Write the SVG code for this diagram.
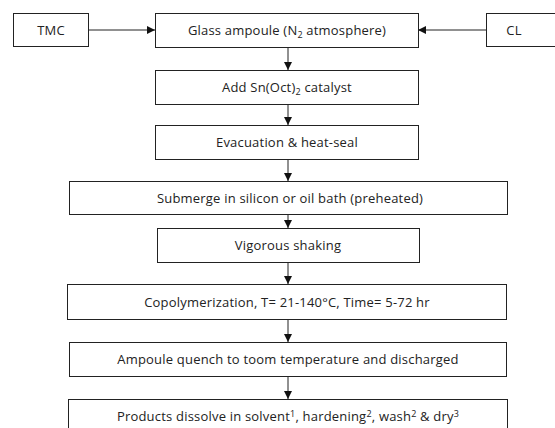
<svg xmlns="http://www.w3.org/2000/svg" width="555" height="428" viewBox="0 0 555 428">
<defs>
<style>
.box{fill:#fff;stroke:#222;stroke-width:1}
.t{font-family:"Open Sans","Liberation Sans",sans-serif;font-size:13px;letter-spacing:0.2px;fill:#222;text-anchor:middle}
.c{stroke:#222;stroke-width:1;fill:none}
</style>
<marker id="ah" viewBox="0 0 10 10" refX="10" refY="5" markerWidth="8" markerHeight="8" markerUnits="userSpaceOnUse" orient="auto">
<path d="M0,0 L10,5 L0,10 z" fill="#111"/>
</marker>
</defs>
<rect width="555" height="428" fill="#fff"/>
<g id="connectors">
<line class="c" x1="88" y1="30" x2="155" y2="30" marker-end="url(#ah)"/>
<line class="c" x1="486" y1="30" x2="418" y2="30" marker-end="url(#ah)"/>
<line class="c" x1="288" y1="47" x2="288" y2="70" marker-end="url(#ah)"/>
<line class="c" x1="288" y1="104" x2="288" y2="125" marker-end="url(#ah)"/>
<line class="c" x1="288" y1="159" x2="288" y2="181" marker-end="url(#ah)"/>
<line class="c" x1="288" y1="214" x2="288" y2="228" marker-end="url(#ah)"/>
<line class="c" x1="288" y1="262" x2="288" y2="284" marker-end="url(#ah)"/>
<line class="c" x1="288" y1="319" x2="288" y2="342" marker-end="url(#ah)"/>
<line class="c" x1="288" y1="376" x2="288" y2="399" marker-end="url(#ah)"/>
</g>
<g id="tmc"><rect class="box" x="13.5" y="13.5" width="75" height="33"/><text class="t" x="51" y="35">TMC</text></g>
<g id="glass"><rect class="box" x="155.5" y="13.5" width="263" height="34"/><text class="t" x="287" y="35">Glass ampoule (N<tspan font-size="9" dy="3">2</tspan><tspan dy="-3"> atmosphere)</tspan></text></g>
<g id="cl"><rect class="box" x="486.5" y="13.5" width="80" height="33"/><text class="t" x="514" y="35">CL</text></g>
<g id="catalyst"><rect class="box" x="155.5" y="70.5" width="263" height="34"/><text class="t" x="287" y="92">Add Sn(Oct)<tspan font-size="9" dy="3">2</tspan><tspan dy="-3"> catalyst</tspan></text></g>
<g id="evac"><rect class="box" x="155.5" y="125.5" width="263" height="34"/><text class="t" x="287" y="147">Evacuation &amp; heat-seal</text></g>
<g id="submerge"><rect class="box" x="69.5" y="181.5" width="438" height="33"/><text class="t" x="290" y="202.5">Submerge in silicon or oil bath (preheated)</text></g>
<g id="shaking"><rect class="box" x="157.5" y="228.5" width="262" height="34"/><text class="t" x="288" y="250">Vigorous shaking</text></g>
<g id="copoly"><rect class="box" x="67.5" y="284.5" width="439" height="35"/><text class="t" x="287" y="306.5">Copolymerization, T= 21-140°C, Time= 5-72 hr</text></g>
<g id="quench"><rect class="box" x="69.5" y="342.5" width="437" height="34"/><text class="t" x="288" y="364">Ampoule quench to toom temperature and discharged</text></g>
<g id="products"><rect class="box" x="68.5" y="399.5" width="439" height="40"/><text class="t" x="288" y="421">Products dissolve in solvent<tspan font-size="9" dy="-4">1</tspan><tspan dy="4">, hardening</tspan><tspan font-size="9" dy="-4">2</tspan><tspan dy="4">, wash</tspan><tspan font-size="9" dy="-4">2</tspan><tspan dy="4"> &amp; dry</tspan><tspan font-size="9" dy="-4">3</tspan></text></g>
</svg>
